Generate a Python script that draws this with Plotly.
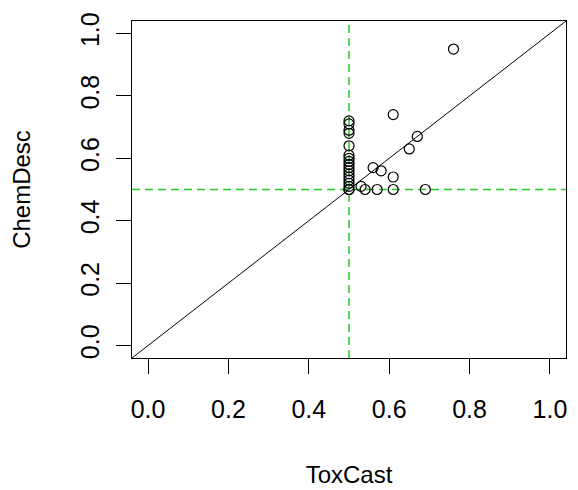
import plotly.graph_objects as go

# ToxCast (x) vs ChemDesc (y) values
tox = [0.76, 0.61, 0.67, 0.65, 0.56, 0.58, 0.61, 0.53, 0.54, 0.57, 0.61, 0.69,
       0.50, 0.50, 0.50, 0.50, 0.50, 0.50, 0.50, 0.50, 0.50, 0.50, 0.50, 0.50,
       0.50, 0.50, 0.50, 0.50, 0.50, 0.50]
chem = [0.95, 0.74, 0.67, 0.63, 0.57, 0.56, 0.54, 0.51, 0.50, 0.50, 0.50, 0.50,
        0.72, 0.71, 0.69, 0.68, 0.64, 0.61, 0.60, 0.59, 0.58, 0.57, 0.56, 0.55,
        0.54, 0.53, 0.52, 0.51, 0.50, 0.50]
tick_vals = [0.0, 0.2, 0.4, 0.6, 0.8, 1.0]
tick_text = ["0.0", "0.2", "0.4", "0.6", "0.8", "1.0"]
ref_val = [0.5]
axis_range = [-0.04, 1.04]

GREEN = "#22CC22"
FONT = "Liberation Sans, Arial, sans-serif"

fig = go.Figure()

# identity line y = x across the whole plotting range
fig.add_trace(go.Scatter(x=axis_range, y=axis_range, mode="lines",
                         line=dict(color="black", width=1), hoverinfo="skip",
                         showlegend=False))
# reference lines at 0.5
fig.add_trace(go.Scatter(x=[ref_val[0], ref_val[0]], y=axis_range, mode="lines",
                         line=dict(color=GREEN, width=1.5, dash="8px,5px"),
                         showlegend=False))
fig.add_trace(go.Scatter(x=axis_range, y=[ref_val[0], ref_val[0]], mode="lines",
                         line=dict(color=GREEN, width=1.5, dash="8px,5px"),
                         showlegend=False))
# points
fig.add_trace(go.Scatter(x=tox, y=chem, mode="markers",
                         marker=dict(symbol="circle-open", size=10,
                                     color="black", line=dict(width=1.2, color="black")),
                         showlegend=False, cliponaxis=False))

axis_common = dict(range=axis_range, tickvals=tick_vals, ticktext=tick_text,
                   ticks="outside", ticklen=15, tickwidth=1, tickcolor="black",
                   showgrid=False, zeroline=False, showline=True, mirror=True,
                   linecolor="black", linewidth=1, automargin=False,
                   tickfont=dict(family=FONT, size=25, color="black"))

fig.update_layout(
    width=578, height=490,
    margin=dict(l=132, r=12, t=21, b=132),
    paper_bgcolor="white", plot_bgcolor="white",
    font=dict(family=FONT, color="black"),
    xaxis=dict(**axis_common, ticklabelstandoff=14,
               title=dict(text="ToxCast", font=dict(family=FONT, size=24), standoff=44)),
    yaxis=dict(**axis_common, tickangle=-90, ticklabelstandoff=7,
               title=dict(text="ChemDesc", font=dict(family=FONT, size=24), standoff=38)),
)

fig.write_html("out.html")
